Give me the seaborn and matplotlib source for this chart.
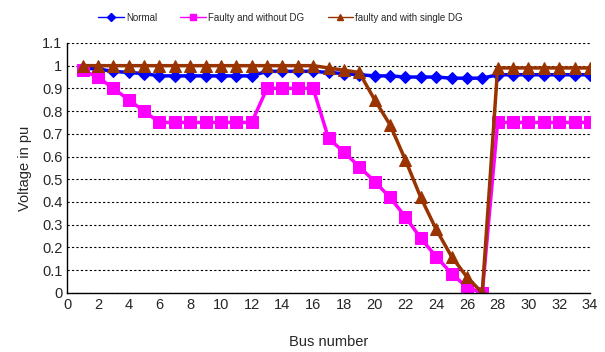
import numpy as np
import pandas as pd
import seaborn as sns
import matplotlib.pyplot as plt

bus = list(range(1, 35))

normal = [0.99, 0.985, 0.975, 0.97, 0.965, 0.955, 0.955, 0.955, 0.955, 0.955, 0.955, 0.955,
          0.975, 0.975, 0.975, 0.975, 0.97, 0.965, 0.96, 0.955, 0.955, 0.95, 0.95, 0.95,
          0.945, 0.945, 0.945, 0.96, 0.96, 0.96, 0.96, 0.96, 0.96, 0.96]

no_dg = [0.98, 0.95, 0.90, 0.85, 0.80, 0.75, 0.75, 0.75, 0.75, 0.75, 0.75, 0.75,
         0.90, 0.90, 0.90, 0.90, 0.68, 0.62, 0.555, 0.49, 0.42, 0.335, 0.24, 0.16,
         0.085, 0.025, 0.0, 0.75, 0.75, 0.75, 0.75, 0.75, 0.75, 0.75]

single_dg = [1.0, 1.0, 1.0, 1.0, 1.0, 1.0, 1.0, 1.0, 1.0, 1.0, 1.0, 1.0,
             1.0, 1.0, 1.0, 1.0, 0.99, 0.98, 0.97, 0.85, 0.74, 0.585, 0.42, 0.28,
             0.16, 0.07, 0.0, 0.99, 0.99, 0.99, 0.99, 0.99, 0.99, 0.99]

labels = ['Normal', 'Faulty and without DG', 'faulty and with single DG']
colors = ['#0000ff', '#ff00ff', '#993300']
markers = ['D', 's', '^']
msizes = [6, 8, 9]

df = pd.DataFrame({'Bus': bus, labels[0]: normal, labels[1]: no_dg, labels[2]: single_dg})

sns.set_style('white')
plt.rcParams['font.family'] = ['Liberation Sans', 'DejaVu Sans']

fig = plt.figure(figsize=(6.05, 3.52), dpi=100)
ax = fig.add_axes([0.111, 0.168, 0.864, 0.71])

for lab, c, m, ms in zip(labels, colors, markers, msizes):
    sns.lineplot(data=df, x='Bus', y=lab, ax=ax, color=c, marker=m, markersize=ms,
                 markeredgecolor=c, linewidth=2.5, label=lab, legend=False)

ax.set_xlim(0, 34)
ax.set_ylim(0, 1.1)
ax.set_xticks(range(0, 35, 2))
ax.set_yticks(np.round(np.arange(0, 1.11, 0.1), 1))
ax.set_yticklabels(['0', '0.1', '0.2', '0.3', '0.4', '0.5', '0.6', '0.7', '0.8', '0.9', '1', '1.1'])
ax.yaxis.grid(True, linestyle=(0, (2, 2)), color='black', linewidth=0.8)
ax.xaxis.grid(False)
ax.tick_params(axis='x', direction='in', length=6, labelsize=10.5, pad=4)
ax.tick_params(axis='y', direction='in', length=0, labelsize=10.5)
for s in ['top', 'right']:
    ax.spines[s].set_visible(False)
for s in ['left', 'bottom']:
    ax.spines[s].set_color('black')
    ax.spines[s].set_linewidth(1)

ax.set_xlabel('Bus number', fontsize=10.5, labelpad=16)
ax.set_ylabel('Voltage in pu', fontsize=10.5, labelpad=7)

handles = [plt.Line2D([], [], color=c, marker=m, markersize=4, linewidth=1)
           for c, m in zip(colors, markers)]
fig.legend(handles, labels, loc='center left', bbox_to_anchor=(0.148, 0.95), ncol=3,
           frameon=False, fontsize=7, handlelength=2.6, handletextpad=0.25,
           columnspacing=2.4)

plt.savefig('out.png', dpi=100)
